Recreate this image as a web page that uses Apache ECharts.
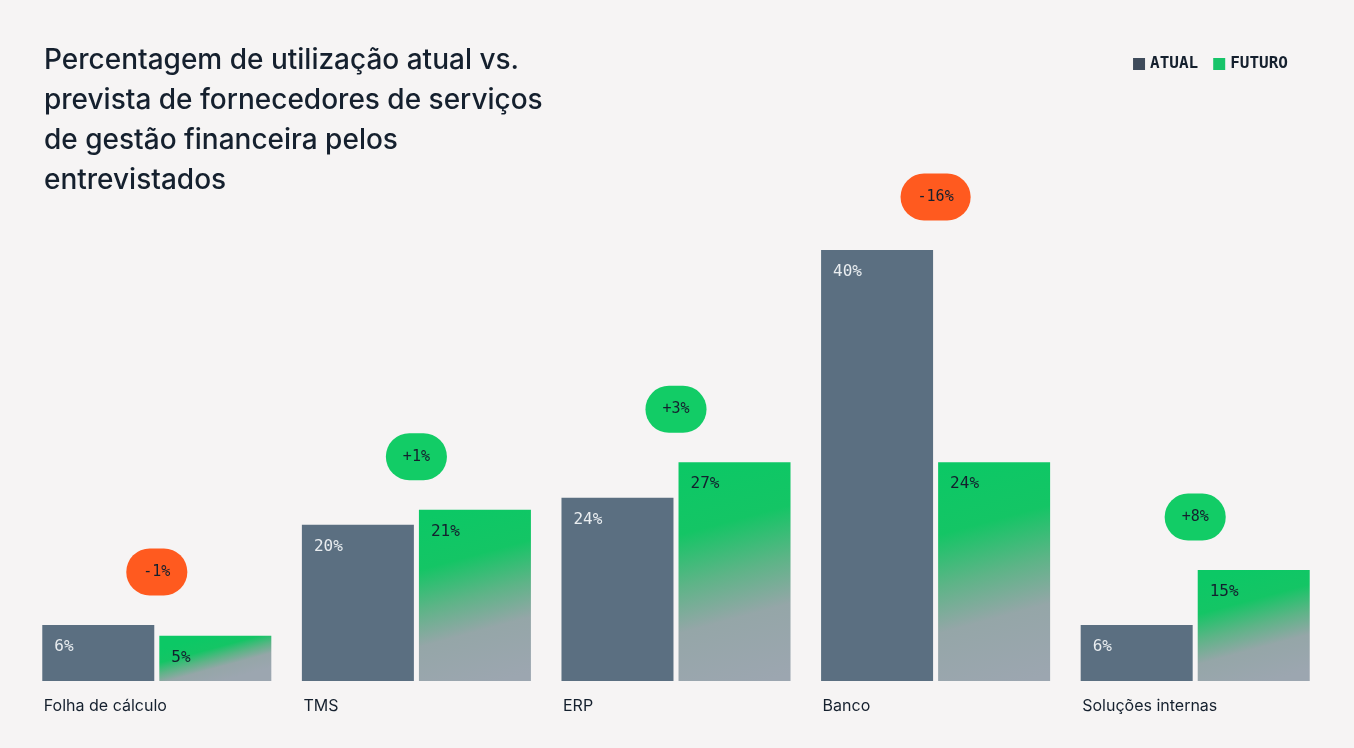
<!DOCTYPE html>
<html>
<head>
<meta charset="utf-8">
<script src="https://cdn.jsdelivr.net/npm/echarts@6/dist/echarts.min.js"></script>
<style>
html,body{margin:0;padding:0;background:#f6f4f4;}
#c{width:1354px;height:748px;}
</style>
</head>
<body>
<div id="c"></div>
<script>
// Data
const categories = ['Folha de cálculo', 'TMS', 'ERP', 'Banco', 'Soluções internas'];
// Printed labels
const atualLabels = [6, 20, 24, 40, 6];
const futuroLabels = [5, 21, 27, 24, 15];
const diffLabels = ['-1%', '+1%', '+3%', '-16%', '+8%'];
// Bar heights as drawn in the picture (in % units of the 40% bar)
const atualHeights = [5.2, 14.5, 17.0, 40, 5.2];
const futuroHeights = [4.2, 15.9, 20.3, 20.3, 10.3];
const titleText = 'Percentagem de utilização atual vs.\nprevista de fornecedores de serviços\nde gestão financeira pelos\nentrevistados';

const mono = '"DejaVu Sans Mono", "Liberation Mono", monospace';
const sans = 'Inter, "Noto Sans", sans-serif';

const badgeData = categories.map((c, i) => [i, Math.max(atualHeights[i], futuroHeights[i]), diffLabels[i]]);

function futuroGradient(h) {
  const dx = Math.min(0.6, h * 0.026);
  return {
    type: 'linear', x: 0.5 - dx / 2, y: 0, x2: 0.5 + dx / 2, y2: 1,
    colorStops: [
      { offset: 0, color: '#0cc865' },
      { offset: 0.28, color: '#14c565' },
      { offset: 0.5, color: '#5db487' },
      { offset: 0.7, color: '#95a6a8' },
      { offset: 1, color: '#9ca6b0' }
    ]
  };
}
const futuroItems = futuroHeights.map(h => ({ value: h, itemStyle: { color: futuroGradient(h) } }));

const chart = echarts.init(document.getElementById('c'));
chart.setOption({
  backgroundColor: '#f6f4f4',
  animation: false,
  title: {
    text: titleText,
    left: 39,
    top: 36,
    textStyle: {
      fontFamily: sans,
      fontSize: 28,
      fontWeight: 500,
      lineHeight: 40,
      color: '#15202e'
    }
  },
  legend: {
    right: 61,
    top: 51,
    itemWidth: 12,
    itemHeight: 12,
    itemGap: 15,
    icon: 'rect',
    textStyle: { fontFamily: mono, fontSize: 16, fontWeight: 'bold', color: '#15202e' },
    data: [
      { name: 'ATUAL', itemStyle: { color: '#3f4b5b' } },
      { name: 'FUTURO', itemStyle: { color: '#17c469' } }
    ]
  },
  grid: { left: 27, right: 29, top: 250, bottom: 67 },
  xAxis: {
    type: 'category',
    data: categories,
    axisLine: { show: false },
    axisTick: { show: false },
    axisLabel: {
      align: 'left',
      padding: [0, 0, 0, -113],
      margin: 17,
      fontFamily: sans,
      fontSize: 16,
      color: '#15202e'
    }
  },
  yAxis: {
    type: 'value',
    min: 0,
    max: 40,
    show: false,
    splitLine: { show: false }
  },
  series: [
    {
      name: 'ATUAL',
      type: 'bar',
      barWidth: 112,
      barGap: '4.5%',
      data: atualHeights,
      itemStyle: { color: '#5b6f81' },
      label: {
        show: true,
        position: [12, 14],
        formatter: p => atualLabels[p.dataIndex] + '%',
        fontFamily: mono,
        fontSize: 16,
        color: '#e9edf0'
      }
    },
    {
      name: 'FUTURO',
      type: 'bar',
      barWidth: 112,
      data: futuroItems,
      itemStyle: { color: '#17c469' },
      label: {
        show: true,
        position: [12, 14],
        formatter: p => futuroLabels[p.dataIndex] + '%',
        fontFamily: mono,
        fontSize: 16,
        color: '#13202e'
      }
    },
    {
      name: 'diff',
      type: 'custom',
      data: badgeData,
      renderItem: function (params, api) {
        const pt = api.coord([api.value(0), api.value(1)]);
        const txt = diffLabels[params.dataIndex];
        const neg = txt.charAt(0) === '-';
        return {
          type: 'text',
          x: pt[0],
          y: pt[1] - 53,
          style: {
            text: txt,
            fontFamily: mono,
            fontSize: 15,
            fontWeight: 500,
            fill: '#15202e',
            align: 'center',
            verticalAlign: 'middle',
            backgroundColor: neg ? '#ff5a1f' : '#12cc66',
            padding: [16, 17, 16, 17],
            borderRadius: 24
          }
        };
      }
    }
  ]
});
</script>
</body>
</html>
